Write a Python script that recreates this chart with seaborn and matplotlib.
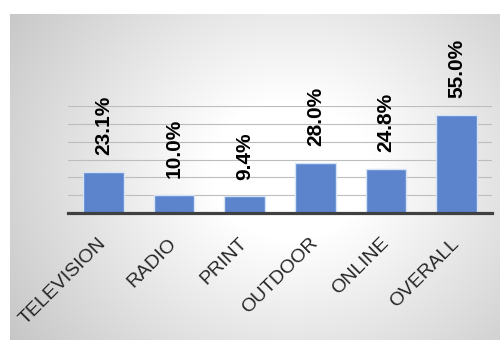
import numpy as np
import matplotlib
matplotlib.use("Agg")
import matplotlib.pyplot as plt
import seaborn as sns

categories = ["TELEVISION", "RADIO", "PRINT", "OUTDOOR", "ONLINE", "OVERALL"]
shares = [23.1, 10.0, 9.4, 28.0, 24.8, 55.0]
gridlines = [10, 20, 30, 40, 50, 60]

sns.set_theme(style="white")
plt.rcParams["font.family"] = ["Liberation Sans", "DejaVu Sans"]

W, H = 500, 340
fig = plt.figure(figsize=(W / 100, H / 100), dpi=100)
fig.patch.set_facecolor("white")

# soft radial-gradient panel behind the chart
bx0, by0 = 10, 14
bg = fig.add_axes([bx0 / W, 0, 1 - bx0 / W, 1 - by0 / H], zorder=-10)
yy, xx = np.mgrid[by0:H, bx0:W]
r = np.hypot((xx - 290) * 1.0, (yy - 170) * 1.15)
shade = 1 - 0.00085 * np.clip(r - 80, 0, None)
shade = np.clip(shade, 0.74, 1.0)
bg.imshow(np.dstack([shade] * 3), aspect="auto", interpolation="bilinear")
bg.set_axis_off()

ax = fig.add_axes([68 / W, (H - 213) / H, 424 / W, 107 / H])
ax.set_facecolor("none")

sns.barplot(x=categories, y=shares, color="#5b84cc", saturation=1, width=0.58,
            edgecolor="#d6e2f5", linewidth=1.0, ax=ax, zorder=3)

ax.set_ylim(0, 60)
ax.set_xlim(-0.5, len(categories) - 0.5)
ax.set_yticks(gridlines)
ax.set_yticklabels([])
ax.yaxis.grid(True, color="#bdbdbd", linewidth=0.8, zorder=0)
ax.set_axisbelow(True)
for s in ("left", "right", "top"):
    ax.spines[s].set_visible(False)
ax.spines["bottom"].set_color("#404040")
ax.spines["bottom"].set_linewidth(2.3)
ax.spines["bottom"].set_zorder(5)
ax.tick_params(axis="both", length=0)
ax.tick_params(axis="x", pad=20)
ax.set_xlabel("")
ax.set_ylabel("")

ax.set_xticks(range(len(categories)))
ax.set_xticklabels(categories, rotation=45, ha="right", va="center",
                   rotation_mode="anchor", fontsize=14, color="#262626")

for i, v in enumerate(shares):
    ax.annotate(f"{v:.1f}%", xy=(i, v), xytext=(0, 12), textcoords="offset points",
                rotation=90, ha="center", va="bottom", fontsize=15,
                fontweight="bold", color="black", annotation_clip=False)

fig.savefig("out.png", dpi=100)
